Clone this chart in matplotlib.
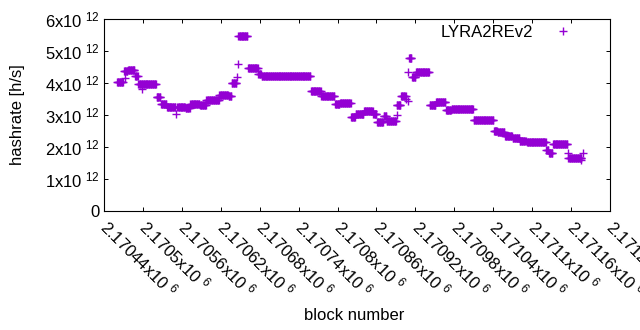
import numpy as np
import matplotlib
matplotlib.use("Agg")
import matplotlib.pyplot as plt

plt.rcParams['font.family'] = ['Liberation Sans', 'DejaVu Sans']
plt.rcParams['mathtext.fontset'] = 'custom'
plt.rcParams['mathtext.rm'] = 'Liberation Sans'
plt.rcParams['mathtext.it'] = 'Liberation Sans'

# Runs of constant hashrate (block start, block end inclusive, hashrate in 1e12 h/s)
seg_start = [2170460, 2170471, 2170477, 2170488, 2170493, 2170521, 2170528, 2170537,
             2170553, 2170566, 2170573, 2170588, 2170598, 2170618, 2170632, 2170637,
             2170647, 2170662, 2170678, 2170683, 2170759, 2170775, 2170796, 2170804,
             2170821, 2170828, 2170841, 2170855, 2170861, 2170871, 2170876, 2170891,
             2170898, 2170910, 2170915, 2170921, 2170942, 2170952, 2170967, 2170976,
             2171010, 2171041, 2171047, 2171058, 2171070, 2171081, 2171092, 2171122,
             2171126, 2171132, 2171156]
seg_end = [2170469, 2170476, 2170487, 2170492, 2170520, 2170527, 2170536, 2170550,
           2170565, 2170572, 2170587, 2170597, 2170617, 2170631, 2170636, 2170644,
           2170661, 2170677, 2170682, 2170758, 2170774, 2170795, 2170803, 2170820,
           2170827, 2170840, 2170854, 2170860, 2170870, 2170875, 2170890, 2170897,
           2170905, 2170914, 2170920, 2170941, 2170951, 2170966, 2170975, 2171009,
           2171040, 2171046, 2171057, 2171069, 2171080, 2171090, 2171121, 2171125,
           2171131, 2171154, 2171176]
seg_value = [4.02, 4.37, 4.40, 4.21, 3.96, 3.55, 3.34, 3.24,
             3.24, 3.21, 3.35, 3.30, 3.47, 3.62, 3.58, 4.00,
             5.46, 4.48, 4.27, 4.23, 3.74, 3.58, 3.33, 3.37,
             2.95, 3.02, 3.13, 3.04, 2.78, 2.96, 2.82, 3.32,
             3.59, 4.77, 4.20, 4.33, 3.32, 3.40, 3.15, 3.18,
             2.83, 2.50, 2.46, 2.33, 2.28, 2.18, 2.15, 1.90,
             1.80, 2.08, 1.65]

# Isolated points
single_block = [2170472, 2170499, 2170551, 2170645, 2170646, 2170891, 2170906, 2170908,
                2170909, 2171155, 2171175, 2171178]
single_value = [4.15, 3.80, 3.02, 4.18, 4.58, 3.00, 3.50, 3.45, 4.33, 1.82, 1.59, 1.82]

xtick_values = list(range(2170440, 2171221, 60))
ytick_values = [0, 1, 2, 3, 4, 5, 6]

blocks = []
rates = []
for s, e, v in zip(seg_start, seg_end, seg_value):
    for b in range(s, e + 1):
        blocks.append(b)
        rates.append(v * 1e12)
for b, v in zip(single_block, single_value):
    blocks.append(b)
    rates.append(v * 1e12)
order = np.argsort(blocks, kind='stable')
blocks = np.array(blocks)[order]
rates = np.array(rates)[order]

fig = plt.figure(figsize=(6.4, 3.3), dpi=100)
ax = fig.add_axes([104/640, 1 - 211/330, (610 - 104)/640, (211 - 19)/330])

color = '#9400D3'
ax.plot(blocks, rates, linestyle='none', marker='+', markersize=5.5,
        markeredgewidth=1.0, color=color, label='LYRA2REv2')

ax.set_xlim(2170440, 2171220)
ax.set_ylim(0, 6e12)

fs = 12
ax.set_xticks(xtick_values)
ax.set_xticklabels([r'$\mathregular{' + f'{v/1e6:g}' + r'x10^{\;\,6}}$' for v in xtick_values],
                   rotation=-45, ha='left', va='center', rotation_mode='anchor', fontsize=fs)
ax.set_yticks([v * 1e12 for v in ytick_values])
ax.set_yticklabels(['0' if v == 0 else r'$\mathregular{' + f'{v}' + r'x10^{\;\,12}}$'
                    for v in ytick_values], fontsize=fs)

ax.tick_params(direction='in', length=3, width=0.7, top=True, right=True,
               colors='black')
ax.tick_params(axis='y', pad=3)
ax.tick_params(axis='x', pad=9)
for sp in ax.spines.values():
    sp.set_linewidth(0.8)

ax.set_xlabel('block number', fontsize=fs)
ax.set_ylabel('hashrate [h/s]', fontsize=fs)
ax.xaxis.set_label_coords((354 - 104) / 506, -(315 - 211) / 192)
ax.yaxis.set_label_coords(-(104 - 18) / 506, 0.5)
ax.xaxis.label.set_va('center')
ax.yaxis.label.set_va('center')

leg = ax.legend(loc='upper right', frameon=False, markerfirst=False, fontsize=fs,
                handlelength=1.0, borderaxespad=0.0, handletextpad=1.3,
                borderpad=0.35, bbox_to_anchor=(0.935, 1.0))

fig.savefig('out.png', dpi=100)
